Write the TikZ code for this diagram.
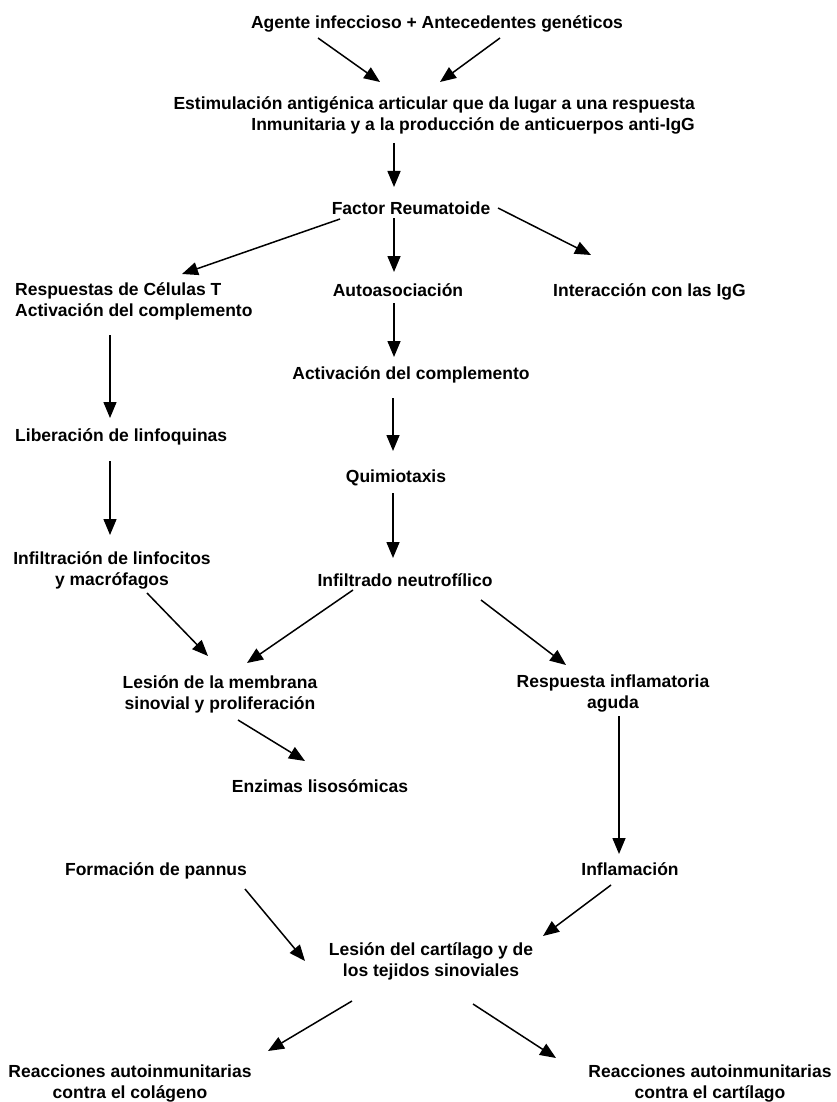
\documentclass[tikz,border=0pt]{standalone}
\usepackage{fontspec}
\setmainfont{Liberation Sans}
\usetikzlibrary{arrows.meta}
\begin{document}
\begin{tikzpicture}[x=1pt,y=-1pt,
  lbl/.style={inner sep=0pt, font=\fontsize{17.5}{21}\selectfont\bfseries, text height=12.6pt, text depth=0pt},
  lbltwo/.style={inner sep=0pt, font=\fontsize{17.5}{21}\selectfont\bfseries},
  arr/.style={line width=1.5pt, -{Triangle[length=16pt,width=13pt]}}]
\useasboundingbox (0,0) rectangle (836,1102);
\fill[white] (0,0) rectangle (836,1102);
% nodes
\node[lbl] (agente) at (437,22) {Agente infeccioso + Antecedentes genéticos};
\node[lbltwo, align=right, anchor=east] (estim) at (695,115) {Estimulación antigénica articular que da lugar a una respuesta\\Inmunitaria y a la producción de anticuerpos anti-IgG};
\node[lbl] (factor) at (411,208) {Factor Reumatoide};
\node[lbltwo, align=left, anchor=west] (resp) at (15,301) {Respuestas de Células T\\Activación del complemento};
\node[lbl] (auto) at (398,290) {Autoasociación};
\node[lbl, anchor=west] (inter) at (553,290) {Interacción con las IgG};
\node[lbl] (activ) at (411,373) {Activación del complemento};
\node[lbl, anchor=west] (liber) at (15,435) {Liberación de linfoquinas};
\node[lbl] (quimio) at (396,476) {Quimiotaxis};
\node[lbltwo, align=center] (infil) at (112,570) {Infiltración de linfocitos\\y macrófagos};
\node[lbl] (infneu) at (405,580) {Infiltrado neutrofílico};
\node[lbltwo, align=center] (lesmem) at (220,694) {Lesión de la membrana\\sinovial y proliferación};
\node[lbltwo, align=center] (respinf) at (613,694) {Respuesta inflamatoria\\aguda};
\node[lbl] (enzimas) at (320,786) {Enzimas lisosómicas};
\node[lbl] (pannus) at (156,869) {Formación de pannus};
\node[lbl] (inflam) at (630,869) {Inflamación};
\node[lbltwo, align=center] (lescart) at (431,961) {Lesión del cartílago y de\\los tejidos sinoviales};
\node[lbltwo, align=center] (reaccol) at (130,1084) {Reacciones autoinmunitarias\\contra el colágeno};
\node[lbltwo, align=center] (reaccar) at (710,1084) {Reacciones autoinmunitarias\\contra el cartílago};
% arrow end points
\coordinate (a1s) at (318,38);  \coordinate (a1e) at (380,82);
\coordinate (a2s) at (500,38);  \coordinate (a2e) at (440,82);
\coordinate (a3s) at (394,143); \coordinate (a3e) at (394,187);
\coordinate (a4s) at (340,219); \coordinate (a4e) at (182,274);
\coordinate (a5s) at (394,218); \coordinate (a5e) at (394,272);
\coordinate (a6s) at (498,208); \coordinate (a6e) at (591,255);
\coordinate (a7s) at (394,303); \coordinate (a7e) at (394,357);
\coordinate (a8s) at (110,335); \coordinate (a8e) at (110,418);
\coordinate (a9s) at (393,398); \coordinate (a9e) at (393,451);
\coordinate (a10s) at (110,461); \coordinate (a10e) at (110,535);
\coordinate (a11s) at (393,493); \coordinate (a11e) at (393,558);
\coordinate (a12s) at (147,593); \coordinate (a12e) at (208,656);
\coordinate (a13s) at (353,590); \coordinate (a13e) at (247,663);
\coordinate (a14s) at (481,600); \coordinate (a14e) at (566,665);
\coordinate (a15s) at (238,720); \coordinate (a15e) at (305,761);
\coordinate (a16s) at (619,716); \coordinate (a16e) at (619,854);
\coordinate (a17s) at (245,889); \coordinate (a17e) at (305,961);
\coordinate (a18s) at (611,885); \coordinate (a18e) at (543,936);
\coordinate (a19s) at (352,1001); \coordinate (a19e) at (268,1051);
\coordinate (a20s) at (473,1004); \coordinate (a20e) at (556,1058);
% connectors
\foreach \i in {1,...,20} {\draw[arr] (a\i s) -- (a\i e);}
\end{tikzpicture}
\end{document}
